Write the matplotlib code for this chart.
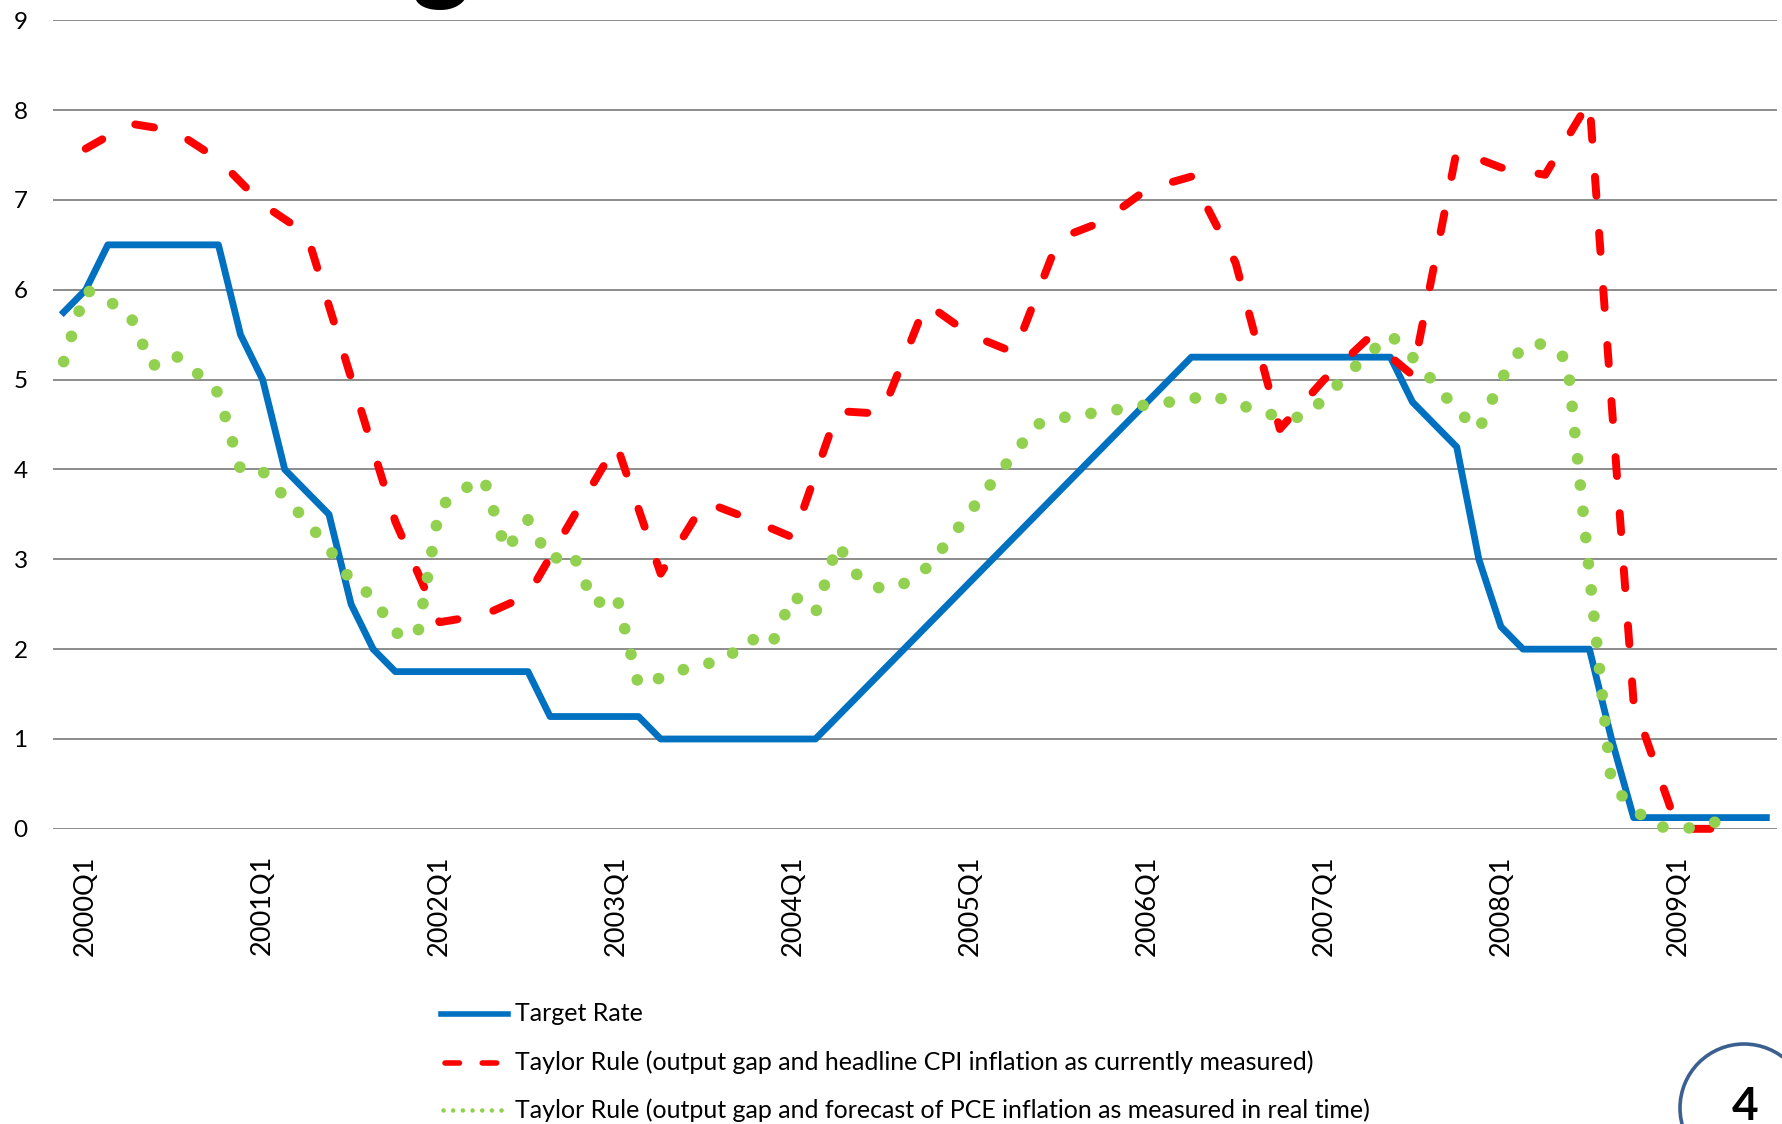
import matplotlib
matplotlib.use("Agg")
import matplotlib.pyplot as plt
from matplotlib.lines import Line2D
from matplotlib.patches import Ellipse
import numpy as np

plt.rcParams['font.family'] = ['Lato', 'DejaVu Sans']

# one value per FOMC meeting (8 a year), Feb 2000 .. Sep 2009
target_rate = [
    5.75, 6.0, 6.5, 6.5, 6.5, 6.5, 6.5, 6.5,
    5.5, 5.0, 4.0, 3.75, 3.5, 2.5, 2.0, 1.75,
    1.75, 1.75, 1.75, 1.75, 1.75, 1.75, 1.25, 1.25,
    1.25, 1.25, 1.25, 1.0, 1.0, 1.0, 1.0, 1.0,
    1.0, 1.0, 1.0, 1.25, 1.5, 1.75, 2.0, 2.25,
    2.5, 2.75, 3.0, 3.25, 3.5, 3.75, 4.0, 4.25,
    4.5, 4.75, 5.0, 5.25, 5.25, 5.25, 5.25, 5.25,
    5.25, 5.25, 5.25, 5.25, 5.25, 4.75, 4.5, 4.25,
    3.0, 2.25, 2.0, 2.0, 2.0, 2.0, 1.0, 0.125,
    0.125, 0.125, 0.125, 0.125, 0.125, 0.125,
]

# Taylor rule, headline CPI: quarterly, sits on every 2nd meeting slot
taylor_cpi = [
    7.57, 7.85, 7.77, 7.45, 6.95, 6.62, 5.02, 3.42,
    2.30, 2.38, 2.60, 3.45, 4.28, 2.84, 3.64, 3.45,
    3.24, 4.65, 4.62, 5.85, 5.50, 5.30, 6.57, 6.76,
    7.12, 7.26, 6.30, 4.45, 5.00, 5.46, 5.05, 7.55,
    7.36, 7.28, 8.10, 1.40, 0.0, 0.0,
]
cpi_pos = np.arange(1, 2 * len(taylor_cpi), 2)

# Taylor rule, real-time PCE forecast: one value per meeting
taylor_pce = [
    5.2, 6.0, 5.88, 5.72, 5.15, 5.28, 5.08, 4.85,
    4.0, 3.98, 3.69, 3.42, 3.12, 2.76, 2.58, 2.18,
    2.15, 3.58, 3.77, 3.9, 3.1, 3.44, 2.99, 3.08,
    2.5, 2.6, 1.6, 1.68, 1.77, 1.83, 1.9, 2.12,
    2.04, 2.6, 2.4, 3.17, 2.78, 2.67, 2.73, 2.9,
    3.2, 3.53, 3.86, 4.18, 4.5, 4.57, 4.61, 4.64,
    4.68, 4.72, 4.75, 4.79, 4.82, 4.73, 4.66, 4.58,
    4.58, 4.78, 5.05, 5.28, 5.5, 5.25, 4.96, 4.66,
    4.44, 5.0, 5.38, 5.4, 5.22, 2.85, 0.5, 0.22,
    0.03, 0.0, 0.02, 0.1,
]

years = list(range(2000, 2010))
tick_labels = [f"{y}Q1" for y in years]
tick_pos = [1 + 8 * i for i in range(len(years))]

legend_labels = [
    "Target Rate",
    "Taylor Rule (output gap and headline CPI inflation as currently measured)",
    "Taylor Rule (output gap and forecast of PCE inflation as measured in real time)",
]

BLUE = '#0070C0'
RED = '#FF0000'
GREEN = '#92D050'

fig = plt.figure(figsize=(17.82, 11.24), dpi=100)
ax = fig.add_axes([0.0295, 0.2626, 0.9679, 0.7194])

ax.plot(np.arange(len(target_rate)), target_rate, color=BLUE, lw=4.9,
        solid_joinstyle='round', zorder=3, clip_on=False)
ax.plot(cpi_pos, taylor_cpi, color=RED, lw=5.7, linestyle=(0, (2.4, 4.7)),
        dash_capstyle='round', dash_joinstyle='round', zorder=4, clip_on=False)
ax.plot(np.arange(len(taylor_pce)), taylor_pce, color=GREEN, lw=8.4,
        linestyle=(0, (0.01, 2.25)), dash_capstyle='round', zorder=5, clip_on=False)

ax.set_xlim(-0.5, 77.5)
ax.set_ylim(0, 9)
ax.set_yticks(range(10))
ax.yaxis.grid(True, color='#8C8C8C', lw=1.4)
ax.set_axisbelow(True)
for s in ax.spines.values():
    s.set_visible(False)
ax.set_xticks(tick_pos)
ax.set_xticklabels(tick_labels, rotation=90)
ax.tick_params(axis='x', length=0, pad=19, labelsize=19.5)
ax.tick_params(axis='y', length=0, pad=18, labelsize=17.5)

# legend drawn by hand below the axis
x0, x1, xt = 0.2475, 0.285, 0.289
rows = [0.0979, 0.0546, 0.0121]
fig.add_artist(Line2D([x0, x1], [rows[0]] * 2, transform=fig.transFigure,
                      color=BLUE, lw=4))
fig.add_artist(Line2D([x0 + 0.002, x1 - 0.004], [rows[1]] * 2, transform=fig.transFigure,
                      color=RED, lw=4, linestyle=(0, (2.6, 4.1)), dash_capstyle='round'))
fig.add_artist(Line2D([x0 + 0.001, x1], [rows[2]] * 2, transform=fig.transFigure,
                      color=GREEN, lw=3.3, linestyle=(0, (0.01, 2.1)), dash_capstyle='round'))
for r, lab in zip(rows, legend_labels):
    fig.text(xt, r, lab, fontsize=18, va='center', ha='left')

# cut-off slide title and page number
fig.text(0.247, 1.009, "g", fontsize=80, fontweight='bold', ha='center', va='baseline')
fig.add_artist(Ellipse((1744 / 1782, 1 - 1108 / 1124), 2 * 64 / 1782, 2 * 64 / 1124,
                       transform=fig.transFigure, fill=False, ec='#3B5F8F', lw=2.6))
fig.text(1745 / 1782, 0.004, "4", fontsize=33, fontweight='bold', ha='center', va='baseline')

fig.savefig('out.png', dpi=100)
